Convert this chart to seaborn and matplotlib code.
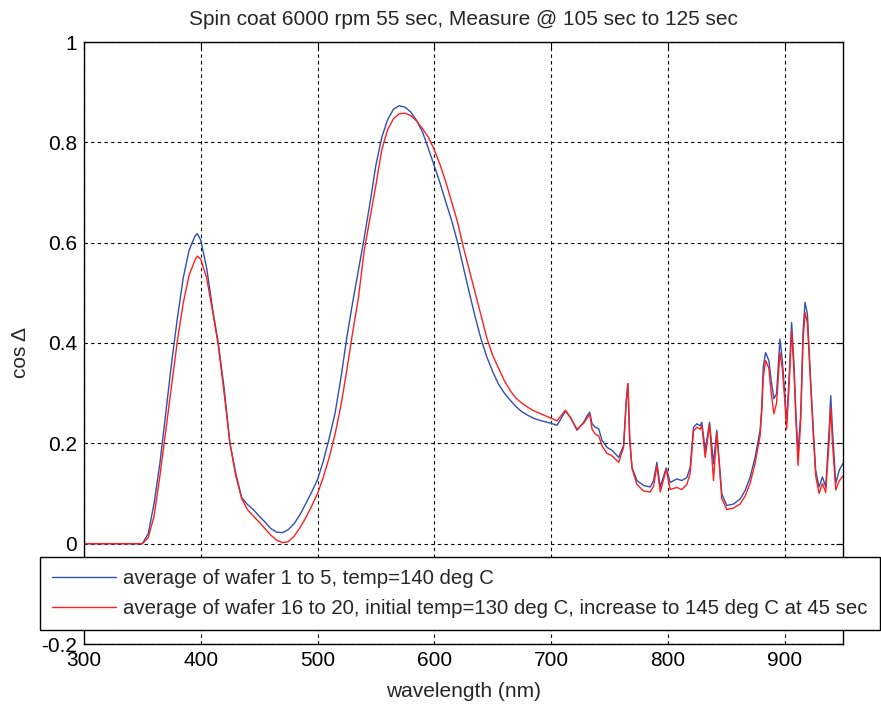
import matplotlib
matplotlib.use("Agg")
import matplotlib.pyplot as plt
import pandas as pd
import seaborn as sns

# Wavelength grid (nm) shared by both averaged spectra
wavelength_nm = [
    300, 310, 320, 330, 340, 350, 355, 360, 365, 370, 375, 380, 385, 390, 395, 397,
    400, 405, 410, 415, 420, 425, 430, 435, 440, 445, 450, 455, 460, 465, 470, 475,
    480, 485, 490, 495, 500, 505, 510, 515, 520, 525, 530, 535, 540, 545, 550, 555,
    560, 565, 570, 575, 580, 585, 590, 595, 600, 605, 610, 615, 620, 625, 630, 635,
    640, 645, 650, 655, 660, 665, 670, 675, 680, 685, 690, 695,
    700.0, 705.1, 712.3, 716.5, 722.2, 727.9, 730.8, 733.1, 735.1, 737.9, 740.8,
    743.6, 747.9, 752.2, 757.9, 762.1, 764.4, 765.8, 767.3, 769.3, 773.5, 779.2,
    784.9, 787.8, 790.6, 793.5, 798.6, 802.0, 807.7, 812.0, 816.3, 819.1, 822.0,
    824.8, 827.7, 829.1, 832.0, 835.7, 839.1, 841.9, 846.2, 850.5, 856.2, 861.9,
    866.2, 870.4, 874.7, 879.0, 880.4, 881.7, 883.7, 886.5, 888.5, 890.8, 893.1,
    896.0, 898.0, 900.0, 901.7, 903.7, 906.0, 908.0, 909.7, 911.5, 913.8, 915.8,
    917.5, 919.5, 922.3, 924.6, 926.6, 929.5, 932.4, 935.2, 938.1, 939.5, 941.0,
    943.8, 946.7, 950.0,
]

# cos(Delta), average of wafer 1 to 5 (140 deg C)
cos_delta_140C = [
    0.0, 0.0, 0.0, 0.0, 0.0, 0.0, 0.02, 0.08, 0.16, 0.26, 0.36, 0.45, 0.53, 0.585, 0.613, 0.618,
    0.605, 0.55, 0.47, 0.40, 0.31, 0.20, 0.14, 0.092, 0.078, 0.068, 0.055, 0.043, 0.030, 0.023, 0.022, 0.028,
    0.040, 0.058, 0.080, 0.103, 0.128, 0.165, 0.21, 0.26, 0.33, 0.41, 0.48, 0.545, 0.61, 0.68, 0.755, 0.81,
    0.845, 0.866, 0.873, 0.870, 0.860, 0.843, 0.820, 0.787, 0.753, 0.718, 0.68, 0.643, 0.600, 0.55, 0.50, 0.452,
    0.408, 0.372, 0.343, 0.318, 0.300, 0.286, 0.273, 0.263, 0.256, 0.250, 0.246, 0.243,
    0.240, 0.236, 0.264, 0.252, 0.226, 0.242, 0.255, 0.262, 0.239, 0.232, 0.229,
    0.206, 0.192, 0.186, 0.172, 0.196, 0.285, 0.319, 0.206, 0.152, 0.126, 0.116,
    0.113, 0.126, 0.162, 0.113, 0.151, 0.122, 0.129, 0.126, 0.132, 0.152, 0.232,
    0.239, 0.235, 0.242, 0.186, 0.242, 0.159, 0.226, 0.099, 0.076, 0.079, 0.089,
    0.106, 0.132, 0.172, 0.226, 0.272, 0.352, 0.381, 0.365, 0.325, 0.289, 0.299,
    0.408, 0.365, 0.305, 0.239, 0.325, 0.441, 0.358, 0.259, 0.180, 0.259, 0.424,
    0.481, 0.458, 0.325, 0.226, 0.146, 0.113, 0.133, 0.113, 0.226, 0.295, 0.226,
    0.120, 0.146, 0.160,
]

# cos(Delta), average of wafer 16 to 20 (130 deg C ramped to 145 deg C)
cos_delta_130to145C = [
    0.0, 0.0, 0.0, 0.0, 0.0, 0.0, 0.012, 0.055, 0.135, 0.225, 0.315, 0.405, 0.48, 0.535, 0.565, 0.573,
    0.567, 0.53, 0.465, 0.395, 0.30, 0.20, 0.135, 0.09, 0.068, 0.055, 0.043, 0.030, 0.017, 0.007, 0.002, 0.004,
    0.015, 0.032, 0.052, 0.075, 0.10, 0.133, 0.172, 0.218, 0.275, 0.345, 0.42, 0.49, 0.585, 0.65, 0.715, 0.785,
    0.825, 0.847, 0.857, 0.858, 0.853, 0.842, 0.827, 0.81, 0.785, 0.755, 0.72, 0.68, 0.64, 0.59, 0.545, 0.50,
    0.455, 0.41, 0.375, 0.35, 0.325, 0.305, 0.29, 0.28, 0.272, 0.265, 0.26, 0.255,
    0.250, 0.245, 0.266, 0.252, 0.228, 0.240, 0.250, 0.258, 0.228, 0.218, 0.215,
    0.195, 0.180, 0.175, 0.162, 0.192, 0.285, 0.319, 0.215, 0.150, 0.118, 0.105,
    0.103, 0.115, 0.155, 0.103, 0.148, 0.108, 0.112, 0.108, 0.118, 0.140, 0.225,
    0.232, 0.228, 0.235, 0.172, 0.238, 0.126, 0.222, 0.090, 0.068, 0.071, 0.079,
    0.095, 0.120, 0.160, 0.215, 0.262, 0.330, 0.365, 0.350, 0.300, 0.259, 0.280,
    0.381, 0.350, 0.290, 0.228, 0.310, 0.424, 0.345, 0.245, 0.156, 0.245, 0.405,
    0.461, 0.440, 0.315, 0.215, 0.135, 0.100, 0.120, 0.102, 0.205, 0.272, 0.200,
    0.107, 0.125, 0.135,
]

series_labels = [
    "average of wafer 1 to 5, temp=140 deg C",
    "average of wafer 16 to 20, initial temp=130 deg C, increase to 145 deg C at 45 sec",
]
series_colors = ["#2f4fb3", "#ff1f1f"]

title_text = "Spin coat 6000 rpm 55 sec, Measure @ 105 sec to 125 sec"
x_label = "wavelength (nm)"
y_label = "cos \u0394"
x_ticks = [300, 400, 500, 600, 700, 800, 900]
y_ticks = [-0.2, 0.0, 0.2, 0.4, 0.6, 0.8, 1.0]
y_tick_labels = ["-0.2", "0", "0.2", "0.4", "0.6", "0.8", "1"]

FS = 15
LEGEND_FS = 14.7

sns.set_style("white")
plt.rcParams["font.family"] = ["Liberation Sans", "DejaVu Sans"]
plt.rcParams["font.size"] = FS

df = pd.concat([
    pd.DataFrame({"wavelength": wavelength_nm, "cos_delta": cos_delta_140C, "series": series_labels[0]}),
    pd.DataFrame({"wavelength": wavelength_nm, "cos_delta": cos_delta_130to145C, "series": series_labels[1]}),
], ignore_index=True)

W, H = 881, 704
fig = plt.figure(figsize=(W / 100, H / 100), dpi=100)
ax_left, ax_right, ax_top, ax_bottom = 84, 843, 42, 644
ax = fig.add_axes([ax_left / W, 1 - ax_bottom / H, (ax_right - ax_left) / W, (ax_bottom - ax_top) / H])

sns.lineplot(data=df, x="wavelength", y="cos_delta", hue="series",
             hue_order=series_labels, palette=series_colors,
             estimator=None, sort=False, linewidth=1.0, ax=ax, legend=False)

ax.set_xlim(300, 950)
ax.set_ylim(-0.2, 1.0)
ax.set_xticks(x_ticks)
ax.set_yticks(y_ticks)
ax.set_yticklabels(y_tick_labels)
ax.tick_params(direction="in", length=5, width=0.8, top=True, right=True,
               colors="black", labelsize=FS, pad=5)
ax.grid(True, color="black", linestyle=(0, (3, 3)), linewidth=0.8)
for s in ax.spines.values():
    s.set_color("black")
    s.set_linewidth(1.0)

ax.set_title(title_text, fontsize=FS, pad=12.5)
ax.set_xlabel(x_label, fontsize=FS)
ax.set_ylabel(y_label, fontsize=FS)
ax.xaxis.set_label_coords(0.5, -0.063)
ax.yaxis.set_label_coords(-0.071, 0.485)

leg = ax.legend(ax.lines[:2], series_labels, loc="upper left",
                bbox_to_anchor=(40 / W, 1 - 557 / H), bbox_transform=fig.transFigure,
                frameon=True, fancybox=False, edgecolor="black", framealpha=1.0,
                fontsize=LEGEND_FS, handlelength=3.15, handletextpad=0.35,
                labelspacing=0.57, borderpad=0.58, borderaxespad=0)
leg.get_frame().set_linewidth(1.0)

fig.savefig("out.png", dpi=100)
